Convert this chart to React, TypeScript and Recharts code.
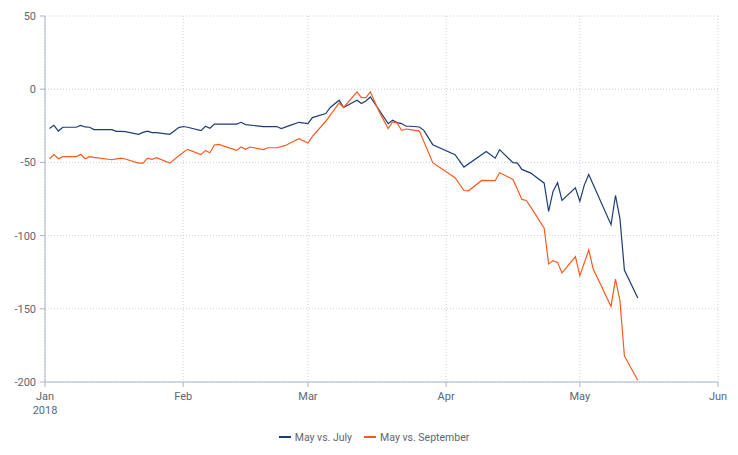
import React from "react";
import { CartesianGrid, Legend, Line, LineChart, XAxis, YAxis } from "recharts";

// trading days (2018) and spread values
const dates = [
  "01-02", "01-03", "01-04", "01-05", "01-08", "01-09", "01-10", "01-11", "01-12", "01-16",
  "01-17", "01-18", "01-19", "01-22", "01-23", "01-24", "01-25", "01-26", "01-29", "01-31",
  "02-01", "02-02", "02-05", "02-06", "02-07", "02-08", "02-09", "02-13", "02-14", "02-15",
  "02-16", "02-19", "02-20", "02-22", "02-23", "02-24", "02-25", "02-27", "03-01", "03-02",
  "03-05", "03-06", "03-08", "03-09", "03-12", "03-13", "03-14", "03-15", "03-17", "03-19",
  "03-20", "03-21", "03-22", "03-23", "03-24", "03-26", "03-27", "03-29", "04-03", "04-05",
  "04-06", "04-09", "04-10", "04-12", "04-13", "04-16", "04-17", "04-18", "04-19", "04-20",
  "04-23", "04-24", "04-25", "04-26", "04-27", "04-30", "05-01", "05-02", "05-03", "05-04",
  "05-08", "05-09", "05-10", "05-11", "05-14",
];

const mayVsJuly = [
  -26.9, -24.7, -28.6, -26.0, -26.0, -24.7, -25.8, -26.0, -27.6, -27.6,
  -28.8, -28.8, -29.0, -30.8, -29.5, -28.6, -29.7, -29.7, -30.8, -26.2,
  -25.5, -26.0, -28.3, -25.3, -26.7, -23.8, null, -23.8, -22.6, -24.2,
  null, -25.5, null, -25.5, -26.9, null, -24.7, -22.6, -23.5, -19.4,
  -16.6, -12.5, -7.5, -12.5, -7.5, -9.8, -8.0, -5.3, -14.4, -23.5,
  -21.2, -22.8, -23.5, -25.3, -25.3, -25.8, -28.1, -37.9, -44.7, -53.2,
  null, null, -42.5, -47.1, -41.3, -50.2, -50.5, -54.8, null, -57.3,
  -64.2, -83.4, -69.7, -63.9, -76.0, -67.3, -76.5, -65.5, -58.2, null,
  -92.5, -72.6, -88.4, -123.5, -142.7,
];

const mayVsSeptember = [
  -47.5, -44.7, -47.5, -46.1, -46.1, -44.5, -47.5, -46.1, -46.6, -48.2,
  -47.6, -47.1, -47.7, -50.5, -50.5, -47.1, -47.9, -46.8, -50.5, -45.4,
  null, -41.1, -44.7, -41.8, -43.4, -38.1, -37.7, -41.8, -39.5, -41.1,
  -39.5, -41.3, -40.0, -40.0, null, -38.4, -36.8, -33.8, -36.8, -32.2,
  -21.9, null, -9.4, -12.5, -1.8, -5.7, -5.7, -1.8, -15.5, -26.9,
  -22.4, -23.1, -28.1, -27.2, -27.6, -28.6, null, -50.2, -60.5, -69.2,
  -69.4, -62.3, null, -62.5, -57.1, -61.6, null, -75.3, -76.0, -80.6,
  -95.0, -119.4, -117.1, -118.3, -125.5, -114.4, -127.4, null, -109.8, -122.8,
  -148.4, -129.7, -144.5, -182.2, -198.8,
];

const monthTicks = [0, 31, 59, 90, 120, 151];
const monthLabels = ["Jan", "Feb", "Mar", "Apr", "May", "Jun"];
const yTicks = [50, 0, -50, -100, -150, -200];

const BLUE = "#1d3d72";
const ORANGE = "#fb5a1e";
const AXIS = "#a9b4c3";
const TEXT = "#5e6673";
const FONT = "Roboto, 'Open Sans', sans-serif";

const dayIndex = (md: string) => {
  const [m, d] = md.split("-").map(Number);
  return (Date.UTC(2018, m - 1, d) - Date.UTC(2018, 0, 1)) / 86400000;
};

const data = dates.map((d, i) => ({
  day: dayIndex(d),
  july: mayVsJuly[i],
  sept: mayVsSeptember[i],
}));

function MonthTick({ x, y, payload }: any) {
  const i = monthTicks.indexOf(payload.value);
  return (
    <text x={x} y={y} textAnchor="middle" fill={TEXT} fontSize={11} fontFamily={FONT}>
      <tspan x={x} dy="0.71em">{monthLabels[i]}</tspan>
      {i === 0 && <tspan x={x} dy="1.25em">2018</tspan>}
    </text>
  );
}

function LegendBox() {
  const item = (color: string, label: string) => (
    <span style={{ display: "inline-flex", alignItems: "center", margin: "0 6px" }}>
      <span style={{ width: 12, height: 2, background: color, marginRight: 4 }} />
      <span>{label}</span>
    </span>
  );
  return (
    <div
      style={{
        display: "flex", justifyContent: "center", paddingLeft: 30,
        fontFamily: FONT, fontSize: 10.5, color: TEXT, height: 20, alignItems: "center",
      }}
    >
      {item(BLUE, "May vs. July")}
      {item(ORANGE, "May vs. September")}
    </div>
  );
}

export default function App() {
  return (
    <div style={{ position: "absolute", left: 0, top: 0 }}>
      <LineChart width={738} height={455} data={data} margin={{ top: 16, right: 20, left: 0, bottom: 8 }}>
        <CartesianGrid stroke="#c9d1dc" strokeDasharray="1 2" />
        <XAxis
          dataKey="day"
          type="number"
          domain={[0, 151]}
          ticks={monthTicks}
          interval={0}
          height={45}
          stroke={AXIS}
          tickSize={5}
          tickMargin={5}
          tick={<MonthTick />}
        />
        <YAxis
          type="number"
          domain={[-200, 50]}
          ticks={yTicks}
          interval={0}
          width={45}
          stroke={AXIS}
          tickSize={5}
          tickMargin={4}
          tick={{ fill: TEXT, fontSize: 11, fontFamily: FONT }}
        />
        <Legend verticalAlign="bottom" content={<LegendBox />} />
        <Line dataKey="july" stroke={BLUE} strokeWidth={1.2} dot={false} connectNulls isAnimationActive={false} />
        <Line dataKey="sept" stroke={ORANGE} strokeWidth={1.2} dot={false} connectNulls isAnimationActive={false} />
      </LineChart>
    </div>
  );
}
